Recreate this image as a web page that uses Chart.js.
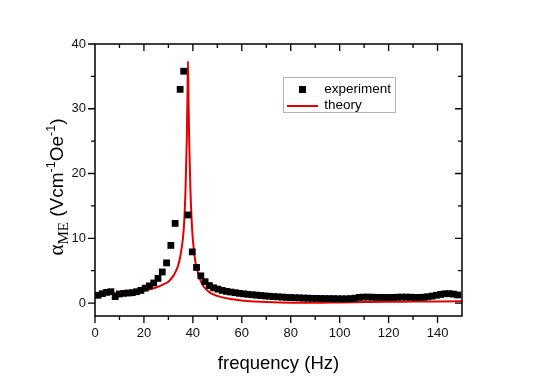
<!DOCTYPE html>
<html><head><meta charset="utf-8">
<script src="https://cdn.jsdelivr.net/npm/chart.js@4"></script>
<style>html,body{margin:0;padding:0;background:#fff}#wrap{width:538px;height:380px}</style>
</head><body><div id="wrap"><canvas id="c" width="538" height="380"></canvas></div>
<script>
// ---- data ----
const expFreq = [1.25, 3, 4.75, 6.5, 8.25, 10, 11.75, 13.5, 15.25, 17,
  18.75, 20.5, 22.25, 24, 25.75, 27.5, 29.25, 31, 32.75, 34.8,
  36.25, 38, 39.75, 41.5, 43.25, 45, 46.75, 48.5, 50.25, 52,
  53.75, 55.5, 57.25, 59, 60.75, 62.5, 64.25, 66, 67.75, 69.5,
  71.25, 73, 74.75, 76.5, 78.25, 80, 81.75, 83.5, 85.25, 87,
  88.75, 90.5, 92.25, 94, 95.75, 97.5, 99.25, 101, 102.75, 104.5,
  106.25, 108, 109.75, 111.5, 113.25, 115, 116.75, 118.5, 120.25, 122,
  123.75, 125.5, 127.25, 129, 130.75, 132.5, 134.25, 136, 137.75, 139.5,
  141.25, 143, 144.75, 146.5, 148.25];
const expVal = [1.2, 1.45, 1.65, 1.75, 1.0, 1.4, 1.5, 1.55, 1.6, 1.75,
  1.95, 2.3, 2.65, 3.1, 3.8, 4.8, 6.2, 8.9, 12.3, 33.0,
  35.8, 13.6, 7.9, 5.5, 4.2, 3.3, 2.7, 2.35, 2.15, 1.95,
  1.8, 1.7, 1.6, 1.5, 1.42, 1.35, 1.28, 1.22, 1.16, 1.1,
  1.05, 1.0, 0.96, 0.92, 0.88, 0.85, 0.82, 0.8, 0.77, 0.75,
  0.73, 0.72, 0.7, 0.69, 0.68, 0.67, 0.66, 0.65, 0.65, 0.68,
  0.75, 0.88, 0.92, 0.92, 0.9, 0.88, 0.87, 0.86, 0.86, 0.87,
  0.9, 0.92, 0.92, 0.9, 0.88, 0.87, 0.9, 0.97, 1.07, 1.2,
  1.33, 1.43, 1.45, 1.38, 1.25];
const thFreq = [0, 5, 10, 15, 20, 25, 28, 30, 32, 33,
  34, 35, 36, 36.5, 37, 37.5, 37.8, 38, 38.2, 38.5,
  39, 39.5, 40, 41, 42, 43, 44, 45, 47, 50,
  55, 60, 65, 70, 80, 90, 100, 110, 120, 130,
  140, 150];
const thVal = [1.4, 1.45, 1.55, 1.7, 1.95, 2.4, 2.9, 3.3, 4.2, 4.9,
  5.8, 7.5, 10.2, 12.8, 17.5, 25.0, 32.0, 37.3, 32.0, 25.0,
  17.5, 12.8, 9.8, 6.4, 4.8, 3.6, 2.8, 2.3, 1.6, 1.1,
  0.65, 0.4, 0.25, 0.15, 0.05, 0.05, 0.1, 0.15, 0.2, 0.22,
  0.25, 0.28];
const seriesNames = ['experiment', 'theory'];
const xTitle = 'frequency (Hz)';
const yTitleParts = [
  {t: 'α', font: '21px "Liberation Serif", serif', dy: 0},
  {t: 'ME', font: '15px "Liberation Serif", serif', dy: 5},
  {t: ' (Vcm', font: '19px "Liberation Sans", Arial, sans-serif', dy: 0},
  {t: '-1', font: '12.5px "Liberation Sans", Arial, sans-serif', dy: -8},
  {t: 'Oe', font: '19px "Liberation Sans", Arial, sans-serif', dy: 0},
  {t: '-1', font: '12.5px "Liberation Sans", Arial, sans-serif', dy: -8},
  {t: ')', font: '19px "Liberation Sans", Arial, sans-serif', dy: 0}
];
const xRange = [0, 150], yRange = [-2, 40];

// ---- rendering ----
const FONT = '"Liberation Sans", Arial, sans-serif';
const RED = '#e60000';

function swatchSquare() {
  const c = document.createElement('canvas'); c.width = 7; c.height = 7;
  const g = c.getContext('2d'); g.fillStyle = '#000'; g.fillRect(0, 0, 7, 7); return c;
}
function swatchLine() {
  const c = document.createElement('canvas'); c.width = 31; c.height = 2;
  const g = c.getContext('2d'); g.fillStyle = RED; g.fillRect(0, 0, 31, 2); return c;
}
const swatches = [swatchSquare(), swatchLine()];

const framePlugin = {
  id: 'frame',
  afterLayout(chart) {
    const lg = chart.legend;
    if (lg) { lg.left = 283.5; lg.top = 79.3; }
  },
  afterDraw(chart) {
    const {ctx, chartArea: a, scales: {x, y}} = chart;
    ctx.save();
    ctx.strokeStyle = '#000';
    ctx.lineWidth = 1.5;
    ctx.strokeRect(a.left, a.top, a.right - a.left, a.bottom - a.top);
    ctx.lineWidth = 1.3;
    ctx.beginPath();
    for (let v = xRange[0]; v <= xRange[1]; v += 10) {
      const px = x.getPixelForValue(v);
      const L = (v % 20 === 0) ? 7 : 4;
      if (v > xRange[0] && v < xRange[1]) {
        ctx.moveTo(px, a.bottom); ctx.lineTo(px, a.bottom + L);
        ctx.moveTo(px, a.top); ctx.lineTo(px, a.top + L);
      } else if (v === xRange[0]) {
        ctx.moveTo(px, a.bottom); ctx.lineTo(px, a.bottom + L);
      }
    }
    for (let v = 0; v <= yRange[1]; v += 5) {
      const py = y.getPixelForValue(v);
      const L = (v % 10 === 0) ? 7 : 4;
      ctx.moveTo(a.left, py); ctx.lineTo(a.left - L, py);
      if (v < yRange[1]) { ctx.moveTo(a.right, py); ctx.lineTo(a.right - L, py); }
    }
    ctx.stroke();
    // legend border
    const lg = chart.legend;
    ctx.strokeStyle = '#b4b4b4'; ctx.lineWidth = 1;
    ctx.strokeRect(Math.round(lg.left) - 0.5, Math.round(lg.top) - 1.5, 112, 35);
    // y title with sub/superscripts
    ctx.fillStyle = '#000';
    let total = 0;
    yTitleParts.forEach(p => { ctx.font = p.font; p.w = ctx.measureText(p.t).width; total += p.w; });
    ctx.translate(a.left - 32, (a.top + a.bottom) / 2 + 7);
    ctx.rotate(-Math.PI / 2);
    ctx.textBaseline = 'alphabetic';
    let cx = -total / 2;
    yTitleParts.forEach(p => { ctx.font = p.font; ctx.fillText(p.t, cx, p.dy); cx += p.w; });
    ctx.restore();
  }
};

new Chart(document.getElementById('c'), {
  type: 'scatter',
  data: {
    datasets: [
      {
        label: seriesNames[0],
        data: expFreq.map((f, i) => ({x: f, y: expVal[i]})),
        pointStyle: 'rect', pointRadius: 4.8, pointBorderWidth: 0,
        backgroundColor: '#000', borderColor: '#000', showLine: false
      },
      {
        label: seriesNames[1],
        data: thFreq.map((f, i) => ({x: f, y: thVal[i]})),
        showLine: true, pointRadius: 0, borderColor: RED, backgroundColor: RED,
        borderWidth: 2, cubicInterpolationMode: 'monotone'
      }
    ]
  },
  options: {
    responsive: false, animation: false, devicePixelRatio: 1,
    layout: {padding: {left: 0, right: 76, top: 44, bottom: 0}},
    plugins: {
      tooltip: {enabled: false},
      legend: {
        display: true, position: 'chartArea', align: 'start',
        labels: {
          usePointStyle: true, pointStyleWidth: 31, boxHeight: 7, padding: 3,
          color: '#000', font: {family: FONT, size: 13.5},
          generateLabels: (chart) => chart.data.datasets.map((ds, i) => ({
            text: ds.label, pointStyle: swatches[i], fillStyle: ds.borderColor,
            strokeStyle: ds.borderColor, lineWidth: 0, hidden: false, datasetIndex: i, fontColor: '#000'
          }))
        }
      }
    },
    scales: {
      x: {
        type: 'linear', min: xRange[0], max: xRange[1],
        afterFit: s => { s.height = 64; },
        grid: {display: false, drawTicks: false}, border: {display: false},
        ticks: {stepSize: 20, includeBounds: false, padding: 10, color: '#111', font: {family: FONT, size: 13}},
        title: {display: true, text: xTitle, color: '#000', font: {family: FONT, size: 18.5}, padding: {top: 0, bottom: 5}}
      },
      y: {
        type: 'linear', min: yRange[0], max: yRange[1],
        afterFit: s => { s.width = 95; },
        grid: {display: false, drawTicks: false}, border: {display: false},
        ticks: {stepSize: 10, includeBounds: false, padding: 9, color: '#111', font: {family: FONT, size: 13}}
      }
    }
  },
  plugins: [framePlugin]
});
</script></body></html>
